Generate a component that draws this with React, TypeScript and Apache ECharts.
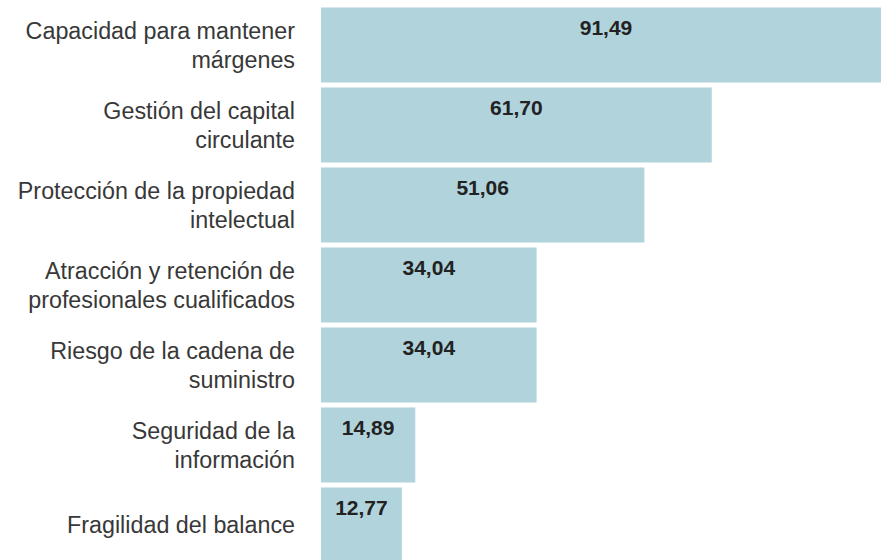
import React, { useEffect, useRef } from "react";
import * as echarts from "echarts";

const categories = [
  "Capacidad para mantener\nmárgenes",
  "Gestión del capital\ncirculante",
  "Protección de la propiedad\nintelectual",
  "Atracción y retención de\nprofesionales cualificados",
  "Riesgo de la cadena de\nsuministro",
  "Seguridad de la\ninformación",
  "Fragilidad del balance",
];
const values = [91.49, 61.7, 51.06, 34.04, 34.04, 14.89, 12.77];

export default function App() {
  const ref = useRef<HTMLDivElement>(null);
  useEffect(() => {
    if (!ref.current) return;
    const chart = echarts.init(ref.current, undefined, { renderer: "svg" });
    chart.setOption({
      animation: false,
      grid: { left: 321, top: 5, width: 570, height: 560 },
      xAxis: {
        type: "value",
        min: 0,
        max: 90,
        show: false,
      },
      yAxis: {
        type: "category",
        data: categories,
        inverse: true,
        axisLine: { show: false },
        axisTick: { show: false },
        axisLabel: {
          fontFamily: "Liberation Sans",
          fontSize: 23.3,
          color: "#383838",
          lineHeight: 29,
          align: "right",
          margin: 26,
        },
      },
      series: [
        {
          type: "bar",
          data: values,
          barCategoryGap: "6.25%",
          itemStyle: { color: "#b1d3dc" },
          label: {
            show: true,
            position: "insideTop",
            distance: 9,
            fontFamily: "Liberation Sans",
            fontWeight: "bold",
            fontSize: 21,
            color: "#222222",
            formatter: (p: any) => p.value.toFixed(2).replace(".", ","),
          },
        },
      ],
    });
    return () => chart.dispose();
  }, []);
  return (
    <div
      ref={ref}
      style={{ position: "absolute", left: 0, top: 0, width: 900, height: 570 }}
    />
  );
}
